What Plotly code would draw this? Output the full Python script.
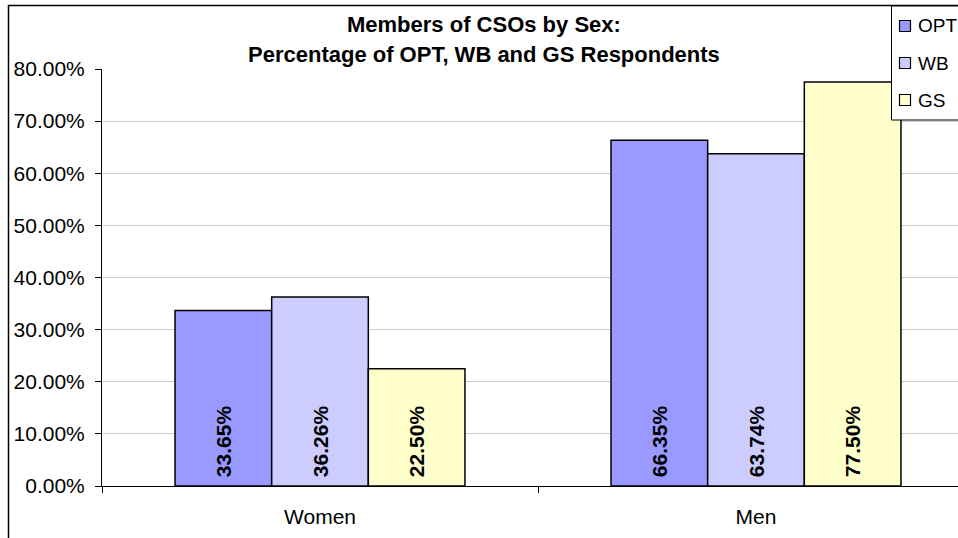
import plotly.graph_objects as go

# Survey shares of CSO members by sex, per respondent group
categories = ["Women", "Men"]
series_names = ["OPT", "WB", "GS"]
opt_values = [0.3365, 0.6635]
wb_values = [0.3626, 0.6374]
gs_values = [0.2250, 0.7750]
y_ticks = [0.0, 0.1, 0.2, 0.3, 0.4, 0.5, 0.6, 0.7, 0.8]

title_line1 = "Members of CSOs by Sex:"
title_line2 = "Percentage of OPT, WB and GS Respondents"

colors = {"OPT": "#9999FF", "WB": "#CCCCFF", "GS": "#FFFFCC"}
FONT = "Liberation Sans, Arial, sans-serif"

W, H = 958, 538
ML, MR, MT, MB = 102, 0, 69, 52
plot_w = W - ML - MR
plot_h = H - MT - MB
cat_px = 436  # pixel width of one category band


def px_x(px):
    """Pixel column -> paper x (relative to the plot area)."""
    return (px - ML) / plot_w


def px_y(py):
    """Pixel row (from top) -> paper y (relative to the plot area)."""
    return (H - MB - py) / plot_h


fig = go.Figure()
for name, vals in zip(series_names, [opt_values, wb_values, gs_values]):
    fig.add_trace(go.Bar(
        name=name,
        x=categories,
        y=vals,
        marker=dict(color=colors[name], line=dict(color="#000000", width=1.5)),
        # leading no-break space lifts the rotated label a little off the base
        text=[f"\u00a0{v * 100:.2f}%" for v in vals],
        textposition="inside",
        insidetextanchor="start",
        textangle=-90,
        insidetextfont=dict(family=FONT, size=21, color="#000000", weight="bold"),
        hoverinfo="skip",
        showlegend=False,
    ))

# outer chart frame
fig.add_shape(
    type="rect", xref="paper", yref="paper",
    x0=px_x(8.5), x1=1.05, y0=-0.3, y1=px_y(5.5),
    line=dict(color="#000000", width=1.5), fillcolor="rgba(0,0,0,0)",
    layer="below",
)

# legend box with one swatch + label per series
fig.add_shape(
    type="rect", xref="paper", yref="paper",
    x0=px_x(891.5), x1=1.05, y0=px_y(120), y1=px_y(6),
    line=dict(color="#000000", width=1), fillcolor="#FFFFFF",
    layer="above",
)
for i, name in enumerate(series_names):
    yc = 26 + i * 37
    fig.add_shape(
        type="rect", xref="paper", yref="paper",
        x0=px_x(899.5), x1=px_x(910.5), y0=px_y(yc + 5.5), y1=px_y(yc - 5.5),
        line=dict(color="#000000", width=1.2), fillcolor=colors[name],
        layer="above",
    )
    fig.add_annotation(
        text=name, xref="paper", yref="paper",
        x=px_x(916), y=px_y(yc), xanchor="left", yanchor="middle",
        showarrow=False, font=dict(family=FONT, size=19, color="#000000"),
    )

# two-line chart title
for txt, yc in [(title_line1, 25), (title_line2, 54.5)]:
    fig.add_annotation(
        text=f"<b>{txt}</b>", xref="paper", yref="paper",
        x=px_x(484), y=px_y(yc),
        xanchor="center", yanchor="middle", showarrow=False,
        font=dict(family=FONT, size=22, color="#000000"),
    )

fig.update_layout(
    width=W, height=H,
    margin=dict(l=ML, r=MR, t=MT, b=MB, autoexpand=False),
    paper_bgcolor="#FFFFFF", plot_bgcolor="#FFFFFF",
    barmode="group", bargap=0.335, bargroupgap=0,
    font=dict(family=FONT, size=21, color="#000000"),
    showlegend=False,
    xaxis=dict(
        range=[-0.5, -0.5 + plot_w / cat_px],
        showline=True, linecolor="#000000", linewidth=1,
        ticks="outside", tickson="boundaries", ticklen=6, tickcolor="#000000",
        ticklabelstandoff=12,
        showgrid=False, fixedrange=True,
    ),
    yaxis=dict(
        range=[0, 0.8], tickvals=y_ticks, tickformat=".2%",
        showline=True, linecolor="#000000", linewidth=1,
        ticks="outside", ticklen=6, tickcolor="#000000",
        ticklabelstandoff=6,
        showgrid=True, gridcolor="#CCCCCC", gridwidth=1,
        zeroline=False, fixedrange=True,
    ),
)

fig.write_html("out.html")
